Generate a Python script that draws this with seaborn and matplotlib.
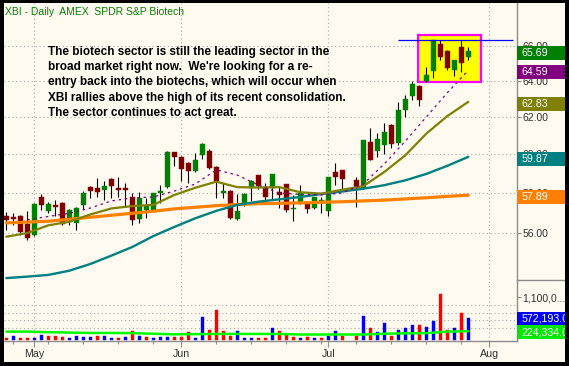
import numpy as np
import pandas as pd
import matplotlib
matplotlib.use("Agg")
import matplotlib.pyplot as plt
import seaborn as sns
from matplotlib.patches import Rectangle
from matplotlib.lines import Line2D
from matplotlib.ticker import FixedLocator, FixedFormatter, NullLocator

nan = np.nan

# daily bars, late April to end of July
OPEN = [56.85, 56.80, 56.85, 56.45, 55.90, 57.80, 57.09, 57.39, 57.50, 56.52,
        56.50, 57.39, 58.31, 58.26, 58.13, 58.72, 58.26, 58.26, 57.80, 56.70,
        57.14, 57.10, 57.98, 58.33, 60.12, 59.86, 59.55, 59.12, 59.96, 60.20,
        59.36, 57.98, 58.12, 56.68, 57.44, 58.24, 58.92, 58.31, 58.24, 58.05,
        58.48, 57.19, 57.57, 57.47, 57.22, 57.51, 57.07, 59.10, 59.19, nan,
        58.67, 58.24, 60.66, 60.18, 60.49, 61.57, 60.59, 62.38, 63.15, 63.71,
        63.99, 64.55, 66.10, 65.69, 64.60, 65.90, 65.35]
HIGH = [57.02, 57.00, 56.90, 57.09, 57.50, 57.95, 57.54, 57.65, 57.57, 57.17,
        57.30, 58.12, 58.35, 58.77, 58.60, 58.75, 58.82, 58.51, 58.00, 58.05,
        57.75, 58.02, 58.41, 60.17, 60.15, 59.90, 59.60, 60.07, 60.60, 60.28,
        59.40, 58.51, 58.16, 57.95, 58.00, 58.67, 58.92, 58.51, 58.98, 58.31,
        58.48, 57.90, 58.41, 57.55, 57.82, 57.82, 58.80, 59.57, 59.20, nan,
        58.81, 60.78, 61.38, 61.12, 61.65, 61.60, 62.80, 63.21, 64.00, 63.75,
        64.80, 66.33, 66.33, 65.75, 65.20, 66.33, 65.93]
LOW = [56.15, 56.40, 55.90, 55.66, 55.85, 57.14, 57.00, 56.85, 56.40, 56.40,
       56.15, 57.20, 57.75, 57.80, 57.65, 57.75, 57.80, 57.30, 56.40, 56.50,
       56.75, 57.08, 57.49, 58.26, 59.39, 58.64, 58.51, 59.08, 59.76, 59.24,
       57.75, 57.75, 56.70, 56.65, 57.34, 57.60, 58.19, 57.60, 57.65, 57.24,
       57.05, 56.57, 57.44, 57.00, 57.20, 56.98, 56.85, 58.41, 58.16, nan,
       57.30, 58.20, 59.68, 59.86, 60.02, 60.34, 60.49, 62.02, 62.93, 62.60,
       63.95, 64.14, 65.15, 64.60, 64.25, 64.48, 65.15]
CLOSE = [56.63, 56.67, 56.05, 55.76, 57.44, 57.39, 57.44, 57.29, 56.45, 57.14,
         57.26, 58.00, 58.08, 58.03, 58.36, 58.36, 58.13, 58.13, 56.65, 57.75,
         57.34, 58.00, 58.12, 60.15, 59.88, 59.24, 59.15, 59.71, 60.55, 59.30,
         58.63, 58.12, 56.73, 57.09, 57.95, 58.62, 58.36, 57.82, 58.98, 57.90,
         57.14, 57.26, 57.99, 57.17, 57.81, 57.65, 58.80, 58.80, 58.72, nan,
         58.24, 60.76, 59.70, 60.80, 61.20, 60.55, 62.38, 62.97, 63.82, 62.93,
         64.33, 66.31, 65.35, 64.70, 65.18, 64.99, 65.69]
VOLUME = [50000, 100000, 50000, 50000, 50000, 130000, 100000, 100000, 80000, 50000,
          100000, 80000, 80000, 100000, 100000, 50000, 50000, 80000, 230000, 100000,
          80000, 50000, 80000, 80000, 80000, 80000, 200000, 50000, 590000, 260000,
          770000, 230000, 100000, 230000, 50000, 50000, 50000, 50000, 310000, 230000,
          150000, 80000, 50000, 80000, 50000, 50000, 100000, 230000, 100000, nan,
          100000, 620000, 310000, 210000, 440000, 110000, 260000, 310000, 385000, 385000,
          330000, 490000, 1180000, 260000, 310000, 700000, 572193]
VOL_UP = [0, 1, 0, 0, 1, 1, 0, 0, 0, 1,
          1, 1, 1, 0, 1, 1, 0, 1, 0, 1,
          0, 1, 1, 1, 0, 0, 0, 1, 1, 0,
          0, 0, 0, 1, 1, 1, 0, 0, 1, 0,
          0, 0, 1, 0, 1, 0, 1, 1, 0, 0,
          0, 1, 0, 1, 1, 0, 1, 1, 1, 0,
          1, 1, 0, 0, 1, 0, 1]

# moving averages at every third bar
MA_IDX = [0, 3, 6, 9, 12, 15, 18, 21, 24, 27, 30, 33, 36, 39, 42, 45, 48, 51, 54, 57, 60, 63, 66]
MA_10 = [nan, 56.65, 56.82, 56.98, 57.24, 57.60, 57.75, 57.80, 58.10, 58.46, 59.19, 58.92,
         58.41, 58.00, 57.93, 57.90, 58.00, 58.46, 59.50, 60.70, 62.00, 63.33, 64.59]
MA_20 = [55.82, 56.00, 56.38, 56.56, 56.92, 57.22, 57.34, 57.40, 57.90, 58.27, 58.58, 58.30,
         58.28, 58.30, 58.04, 57.97, 58.17, 58.35, 59.08, 59.95, 61.10, 62.05, 62.83]
MA_50 = [53.83, 53.90, 53.98, 54.18, 54.50, 54.90, 55.32, 55.85, 56.30, 56.73, 57.10, 57.40,
         57.56, 57.68, 57.80, 57.95, 58.08, 58.22, 58.40, 58.65, 58.98, 59.40, 59.87]
MA_200 = [56.50, 56.54, 56.58, 56.68, 56.78, 56.88, 56.98, 57.08, 57.20, 57.28, 57.36, 57.42,
          57.46, 57.48, 57.50, 57.53, 57.56, 57.60, 57.64, 57.70, 57.76, 57.83, 57.89]
VOL_MA = [215000, 215000, 200000, 190000, 180000, 180000, 175000, 160000, 145000, 150000,
          155000, 155000, 155000, 155000, 140000, 140000, 140000, 140000, 160000, 170000,
          175000, 215000, 224334]

MONTHS = ["May", "Jun", "Jul", "Aug"]
MONTH_IDX = [4, 25, 46, 69]
WEEK_IDX = [1, 6, 11, 16, 21, 30, 35, 40, 45, 50, 55, 60, 65]
PRICE_TICKS = [56, 58, 60, 62, 64, 66]
VOL_GRID = [300000, 500000, 700000, 900000]
VOL_TICKS = [1100000]

# consolidation box and its high
BOX_X = (58.86, 67.8)
BOX_Y = (63.95, 66.63)
RESIST = 66.32
RESIST_X = (56.0, 72.4)

TITLE = "XBI - Daily  AMEX  SPDR S&P Biotech"
NOTE = ["The biotech sector is still the leading sector in the",
        "broad market right now.  We're looking for a re-",
        "entry back into the biotechs, which will occur when",
        "XBI rallies above the high of its recent consolidation.",
        "The sector continues to act great."]

BG = "#FFFAF0"
GRID = "#A8A8A8"
AXIS = "#8C8C8C"
TEXT = "#303030"
UP_C, DN_C = "#008000", "#800000"

sns.set_theme(style="white")
plt.rcParams["font.family"] = ["Liberation Sans", "DejaVu Sans"]

W, H = 569, 366
fig = plt.figure(figsize=(W / 100, H / 100), dpi=100, facecolor="black")


def fx(px):
    return px / W


def fy(py):
    return 1 - py / H


fig.add_artist(Rectangle((0, 0), 1, 1, transform=fig.transFigure,
                         facecolor=BG, edgecolor="none", zorder=-10))

ax = fig.add_axes([fx(4), fy(280), fx(513), (280 - 3) / H])
axv = fig.add_axes([fx(4), fy(341), fx(513), (341 - 280) / H], sharex=ax)
for a in (ax, axv):
    a.set_facecolor("none")
    for s in ("top", "left", "bottom"):
        a.spines[s].set_visible(False)
    a.spines["right"].set_color(AXIS)
    a.spines["right"].set_linewidth(1)
axv.spines["bottom"].set_visible(True)
axv.spines["bottom"].set_color(AXIS)
axv.spines["bottom"].set_linewidth(1)

df = pd.DataFrame({"i": np.arange(len(CLOSE)), "o": OPEN, "h": HIGH, "l": LOW,
                   "c": CLOSE, "v": VOLUME, "up": VOL_UP}).dropna()

# price panel
ax.set_yscale("log")
ax.set_ylim(53.74, 68.52)
ax.set_xlim(-0.33, 72.96)

for t in PRICE_TICKS:
    ax.axhline(t, color=GRID, lw=0.8, ls=(0, (1, 2.5)), zorder=1)
for m in MONTH_IDX:
    ax.axvline(m, color=GRID, lw=0.8, ls=(0, (1, 2.5)), zorder=1)
    axv.axvline(m, color=GRID, lw=0.8, ls=(0, (1, 2.5)), zorder=1)
for t in VOL_GRID:
    axv.axhline(t, color=GRID, lw=0.8, ls=(0, (1, 2.5)), zorder=1)

ax.add_patch(Rectangle((BOX_X[0], BOX_Y[0]), BOX_X[1] - BOX_X[0], BOX_Y[1] - BOX_Y[0],
                       facecolor="#FFFF00", edgecolor="#FF00FF", lw=1.6, zorder=2))

is_up = df["c"] >= df["o"]
body_colors = np.where(is_up, UP_C, DN_C)
ax.vlines(df["i"], df["l"], df["h"], color="black", lw=0.8, zorder=3)
ax.bar(df["i"], (df["c"] - df["o"]).abs().clip(lower=0.03),
       bottom=np.minimum(df["o"], df["c"]), width=0.72,
       color=body_colors, edgecolor=body_colors, linewidth=0.3, zorder=4)

sns.lineplot(x=MA_IDX, y=MA_200, ax=ax, color="#FF8000", lw=2.3, zorder=5)
sns.lineplot(x=MA_IDX, y=MA_50, ax=ax, color="#008080", lw=1.7, zorder=5)
sns.lineplot(x=MA_IDX, y=MA_20, ax=ax, color="#808000", lw=1.6, zorder=5)
sns.lineplot(x=MA_IDX, y=MA_10, ax=ax, color="#800080", lw=0.9,
             linestyle=(0, (2, 3)), zorder=5)
ax.hlines(RESIST, RESIST_X[0], RESIST_X[1], color="#0000FF", lw=0.9, zorder=6)

ax.yaxis.tick_right()
ax.yaxis.set_major_locator(FixedLocator(PRICE_TICKS))
ax.yaxis.set_major_formatter(FixedFormatter([f"{t:.2f}" for t in PRICE_TICKS]))
ax.yaxis.set_minor_locator(NullLocator())
ax.tick_params(axis="y", which="major", right=True, length=3, width=0.8, color=AXIS,
               labelsize=7.5, labelcolor=TEXT, pad=1)
ax.tick_params(axis="x", which="both", bottom=False, labelbottom=False)
ax.set_xlabel("")
ax.set_ylabel("")

# volume panel
vol_colors = np.where(df["up"] == 1, "#0000FF", "#FF0000")
axv.bar(df["i"], df["v"], width=0.43, color=vol_colors, edgecolor=vol_colors,
        linewidth=0.3, zorder=3)
sns.lineplot(x=MA_IDX, y=VOL_MA, ax=axv, color="#00FF00", lw=1.8, zorder=4)
axv.set_ylim(-26000, 1538000)
axv.yaxis.tick_right()
axv.yaxis.set_major_locator(FixedLocator(VOL_TICKS))
axv.yaxis.set_major_formatter(FixedFormatter(["1,100,0..."]))
axv.yaxis.set_minor_locator(NullLocator())
axv.tick_params(axis="y", which="major", right=True, length=3, width=0.8, color=AXIS,
                labelsize=7.5, labelcolor=TEXT, pad=1)
axv.set_xticks(MONTH_IDX)
axv.set_xticklabels(MONTHS)
axv.set_xticks(WEEK_IDX, minor=True)
axv.tick_params(axis="x", which="major", bottom=True, length=4.5, width=0.8, color=AXIS,
                labelsize=7.7, labelcolor=TEXT, pad=1.5)
axv.tick_params(axis="x", which="minor", bottom=True, length=2.2, width=0.8, color=AXIS)
axv.set_xlim(-0.33, 72.96)
axv.set_xlabel("")
axv.set_ylabel("")

fig.add_artist(Line2D([fx(517), fx(569)], [fy(280), fy(280)], transform=fig.transFigure,
                      color=AXIS, lw=1, zorder=10))

# value tags on the right edge
to_fig = fig.transFigure.inverted()


def tag(axis, value, text, color, nudge=2):
    _, y = axis.transData.transform((0, value))
    x0, _ = axis.transAxes.transform((1, 0))
    (a0, b0), (a1, b1) = to_fig.transform([(x0, y - nudge - 7), (x0 + 60, y - nudge + 7)])
    fig.add_artist(Rectangle((a0, b0), a1 - a0, b1 - b0, transform=fig.transFigure,
                             facecolor=color, edgecolor="none", zorder=20))
    fig.text(a0 + fx(4.5), (b0 + b1) / 2, text, color="white", fontsize=7.7,
             ha="left", va="center", zorder=21)


tag(ax, CLOSE[-1], f"{CLOSE[-1]:.2f}", UP_C)
tag(ax, MA_10[-1], f"{MA_10[-1]:.2f}", "#800080")
tag(ax, MA_20[-1], f"{MA_20[-1]:.2f}", "#808000")
tag(ax, MA_50[-1], f"{MA_50[-1]:.2f}", "#008080")
tag(ax, MA_200[-1], f"{MA_200[-1]:.2f}", "#FF8000")
tag(axv, VOLUME[-1], f"{VOLUME[-1]:,.1f}", "#0000FF", nudge=1)
tag(axv, VOL_MA[-1], f"{VOL_MA[-1]:,.1f}", "#00E800", nudge=1)

fig.text(fx(5), fy(12), TITLE, color="#008000", fontsize=7.5, ha="left", va="center")
for k, line in enumerate(NOTE):
    fig.text(fx(48), fy(55 + 15.2 * k), line, color="black", fontsize=8.5,
             fontweight="bold", ha="left", va="baseline")

# black frame
for r in [(0, 0, 4, H), (0, 0, W, 3), (565, 0, 4, H), (0, 362, W, 4)]:
    fig.add_artist(Rectangle((fx(r[0]), fy(r[1] + r[3])), fx(r[2]), r[3] / H,
                             transform=fig.transFigure, facecolor="black",
                             edgecolor="none", zorder=100))

fig.savefig("out.png", dpi=100, facecolor="black")
